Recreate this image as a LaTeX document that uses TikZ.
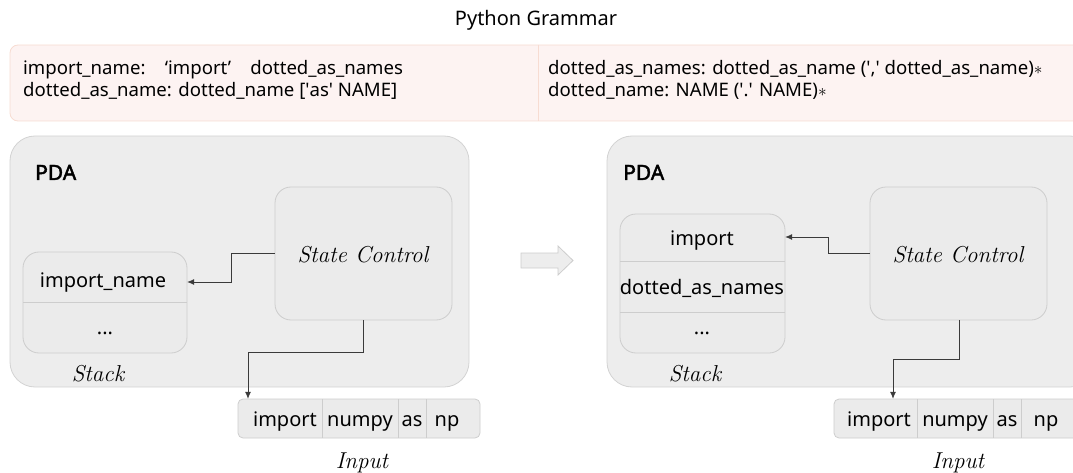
\documentclass[tikz,border=0pt]{standalone}
\usepackage{fontspec}
\newfontfamily\sans{Noto Sans}
\newfontfamily\sansbold{Noto Sans}[FakeBold=2.2]
\usetikzlibrary{arrows.meta}
\definecolor{pdafill}{HTML}{EDEDED}
\definecolor{pdaline}{HTML}{D3D3D3}
\definecolor{boxfill}{HTML}{EBEBEB}
\definecolor{boxline}{HTML}{CDCDCD}
\definecolor{gramfill}{HTML}{FDF3F2}
\definecolor{gramline}{HTML}{F7DCD2}
\definecolor{conn}{HTML}{3A3A3A}
\tikzset{
  pda/.style={draw=pdaline, fill=pdafill, rounded corners=25pt, line width=0.8pt},
  sbox/.style={draw=boxline, fill=boxfill, rounded corners=16pt, line width=0.8pt},
  ibox/.style={draw=boxline, fill=boxfill, rounded corners=5pt, line width=0.8pt},
  sep/.style={draw=boxline, line width=0.8pt},
  txt/.style={font=\sans\fontsize{20}{24}\selectfont, inner sep=0pt, anchor=base},
  itxt/.style={font=\fontsize{23}{27}\selectfont\itshape, inner sep=0pt, anchor=base},
  pdal/.style={font=\sansbold\fontsize{21}{25}\selectfont, inner sep=0pt, anchor=base west},
  gram/.style={font=\sans\fontsize{18.6}{18.6}\selectfont, inner sep=0pt, anchor=base west},
  conn/.style={draw=conn, line width=0.8pt, -{Latex[length=7pt,width=6pt]}},
}
\begin{document}
\begin{tikzpicture}[x=1pt,y=-1pt]
\useasboundingbox (0,0) rectangle (1073,473);
\clip (0,0) rectangle (1073,473);
% title
\node[txt] (title) at (536,26) {Python Grammar};
% grammar box
\draw[draw=gramline, fill=gramfill, rounded corners=8pt, line width=0.8pt] (10,45) rectangle (1090,121);
\draw[draw=gramline, line width=0.8pt] (538,45) -- (538,121);
\node[gram] (g1) at (23,75) {import\_name:\ \ \ \ ‘import’\ \ \ \ dotted\_as\_names};
\node[gram] (g2) at (23,96.5) {dotted\_as\_name: dotted\_name [\textquotesingle as\textquotesingle{} NAME]};
\node[gram] (g3) at (548,75) {dotted\_as\_names: dotted\_as\_name (\textquotesingle,\textquotesingle{} dotted\_as\_name)$\ast$};
\node[gram] (g4) at (548,96.5) {dotted\_name: NAME (\textquotesingle.\textquotesingle{} NAME)$\ast$};
% middle arrow
\draw[draw=boxline, fill=pdafill, line width=0.8pt] (521,253) -- (558,253) -- (558,246) -- (573,260.5) -- (558,275) -- (558,268) -- (521,268) -- cycle;

% ===== left PDA =====
\draw[pda] (10,136) rectangle (469,387);
\node[pdal] (pdaL) at (35,180) {PDA};
\draw[sbox] (275,187) rectangle (452,320);
\node[inner sep=0pt, minimum width=177pt, minimum height=133pt] (scL) at (363.5,253.5) {};
\node[itxt] (scLt) at (363,262) {State Control};
\draw[sbox] (23,252) rectangle (187,353);
\draw[sep] (23,302) -- (187,302);
\node[inner sep=0pt, minimum width=164pt, minimum height=50pt] (stL1) at (105,277) {};
\node[txt] (stL1t) at (103,287) {import\_name};
\node[txt] (stL2t) at (105,334) {...};
\node[itxt] (stackL) at (98,381) {Stack};
\draw[ibox] (238,399) rectangle (480,438);
\draw[sep] (322,399) -- (322,438);
\draw[sep] (398,399) -- (398,438);
\draw[sep] (426,399) -- (426,438);
\node[inner sep=0pt, minimum width=84pt, minimum height=39pt] (inL) at (280,418.5) {};
\node[txt] (inL1) at (285,426) {import};
\node[txt] (inL2) at (360,426) {numpy};
\node[txt] (inL3) at (412,426) {as};
\node[txt] (inL4) at (447,426) {np};
\node[itxt] (inputL) at (362,468) {Input};
\coordinate (cL1) at (231,253);
\coordinate (cL2) at (231,282);
\draw[conn] (scL.west |- cL1) -- (cL1) -- (cL2) -- (stL1.east |- cL2);
\coordinate (cL3) at (363,352);
\coordinate (cL4) at (248,352);
\draw[conn] (scL.south -| cL3) -- (cL3) -- (cL4) -- (cL4 |- inL.north);

% ===== right PDA =====
\draw[pda] (607,136) rectangle (1095,387);
\node[pdal] (pdaR) at (623,180) {PDA};
\draw[sbox] (870,187) rectangle (1047,320);
\node[inner sep=0pt, minimum width=177pt, minimum height=133pt] (scR) at (958.5,253.5) {};
\node[itxt] (scRt) at (958,262) {State Control};
\draw[sbox] (620,214) rectangle (785,353);
\draw[sep] (620,261) -- (785,261);
\draw[sep] (620,312) -- (785,312);
\node[inner sep=0pt, minimum width=165pt, minimum height=47pt] (stR1) at (702.5,237.5) {};
\node[txt] (stR1t) at (702,245) {import};
\node[txt] (stR2t) at (702,294) {dotted\_as\_names};
\node[txt] (stR3t) at (702,334) {...};
\node[itxt] (stackR) at (695,381) {Stack};
\draw[ibox] (834,399) rectangle (1095,438);
\draw[sep] (917,399) -- (917,438);
\draw[sep] (993,399) -- (993,438);
\draw[sep] (1021,399) -- (1021,438);
\node[inner sep=0pt, minimum width=83pt, minimum height=39pt] (inR) at (875.5,418.5) {};
\node[txt] (inR1) at (879,426) {import};
\node[txt] (inR2) at (955,426) {numpy};
\node[txt] (inR3) at (1007,426) {as};
\node[txt] (inR4) at (1046,426) {np};
\node[itxt] (inputR) at (958,468) {Input};
\coordinate (cR1) at (828,253);
\coordinate (cR2) at (828,237);
\draw[conn] (scR.west |- cR1) -- (cR1) -- (cR2) -- (stR1.east |- cR2);
\coordinate (cR3) at (959,359);
\coordinate (cR4) at (893,359);
\draw[conn] (scR.south -| cR3) -- (cR3) -- (cR4) -- (cR4 |- inR.north);
\end{tikzpicture}
\end{document}
